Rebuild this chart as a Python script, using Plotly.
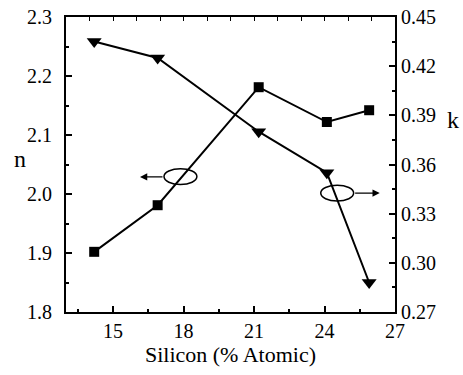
import plotly.graph_objects as go

silicon = [14.2, 16.9, 21.2, 24.1, 25.9]
n_vals = [1.902, 1.981, 2.181, 2.122, 2.142]
k_vals = [0.435, 0.425, 0.380, 0.355, 0.288]

x_ticks = [15, 18, 21, 24, 27]
n_ticks = [1.8, 1.9, 2.0, 2.1, 2.2, 2.3]
k_ticks = [0.27, 0.30, 0.33, 0.36, 0.39, 0.42, 0.45]

FONT = "Times New Roman"
XR = [13, 27]

fig = go.Figure()
fig.add_trace(go.Scatter(
    x=silicon, y=n_vals, mode="lines+markers",
    line=dict(color="black", width=2),
    marker=dict(symbol="square", size=10, color="black"),
    showlegend=False, cliponaxis=False))
fig.add_trace(go.Scatter(
    x=silicon, y=k_vals, mode="lines+markers", yaxis="y2",
    line=dict(color="black", width=2),
    marker=dict(symbol="triangle-down", size=13, color="black"),
    showlegend=False, cliponaxis=False))
# invisible trace for top tick axis
fig.add_trace(go.Scatter(x=XR, y=[2.0, 2.0], xaxis="x2", mode="lines",
                         line=dict(width=0), hoverinfo="skip", showlegend=False))

tf = dict(family=FONT, size=20, color="black")
fig.update_layout(
    template="none",
    width=463, height=375,
    margin=dict(l=66, r=68, t=17, b=63),
    paper_bgcolor="white", plot_bgcolor="white",
    font=dict(family=FONT, color="black", size=20),
    xaxis=dict(range=XR, tickvals=x_ticks, ticks="inside", ticklen=6, tickwidth=1.5,
               tickcolor="black", showline=True, linecolor="black", linewidth=2,
               showgrid=False, zeroline=False, tickfont=tf,
               minor=dict(dtick=1.5, tick0=13.5, ticks="inside", ticklen=3, tickcolor="black", showgrid=False),
               title=dict(text="Silicon (% Atomic)", font=dict(family=FONT, size=22), standoff=6)),
    xaxis2=dict(range=XR, overlaying="x", side="top", dtick=1, tick0=13,
                ticks="inside", ticklen=4, tickcolor="black", showticklabels=False,
                showline=True, linecolor="black", linewidth=1.5, showgrid=False, zeroline=False),
    yaxis=dict(range=[1.8, 2.3], tickvals=n_ticks, tickformat=".1f", ticks="inside",
               ticklen=6, tickwidth=1.5, tickcolor="black", showline=True, linecolor="black",
               linewidth=2, showgrid=False, zeroline=False, tickfont=tf, ticklabelstandoff=8,
               minor=dict(dtick=0.05, tick0=1.8, ticks="inside", ticklen=3, tickcolor="black", showgrid=False)),
    yaxis2=dict(range=[0.27, 0.45], tickvals=k_ticks, tickformat=".2f", overlaying="y",
                side="right", ticks="inside", ticklen=6, tickwidth=1.5, tickcolor="black",
                showline=True, linecolor="black", linewidth=2, showgrid=False, zeroline=False,
                tickfont=tf,
                minor=dict(dtick=0.015, tick0=0.27, ticks="inside", ticklen=3, tickcolor="black", showgrid=False)),
    shapes=[
        dict(type="circle", xref="x", yref="y", x0=17.17, x1=18.57, y0=2.016, y1=2.043,
             line=dict(color="black", width=1.5)),
        dict(type="circle", xref="x", yref="y", x0=23.84, x1=25.24, y0=1.988, y1=2.015,
             line=dict(color="black", width=1.5)),
    ],
    annotations=[
        dict(x=16.15, y=2.029, ax=17.17, ay=2.029, xref="x", yref="y", axref="x", ayref="y",
             text="", showarrow=True, arrowhead=2, arrowsize=1.2, arrowwidth=1.2, arrowcolor="black"),
        dict(x=26.35, y=2.0015, ax=25.24, ay=2.0015, xref="x", yref="y", axref="x", ayref="y",
             text="", showarrow=True, arrowhead=2, arrowsize=1.2, arrowwidth=1.2, arrowcolor="black"),
        dict(x=-0.14, y=0.52, xref="paper", yref="paper", text="n", showarrow=False,
             font=dict(family=FONT, size=24), xanchor="center", yanchor="middle"),
        dict(x=1.176, y=0.65, xref="paper", yref="paper", text="k", showarrow=False,
             font=dict(family=FONT, size=24), xanchor="center", yanchor="middle"),
    ],
)

fig.write_html("out.html")
